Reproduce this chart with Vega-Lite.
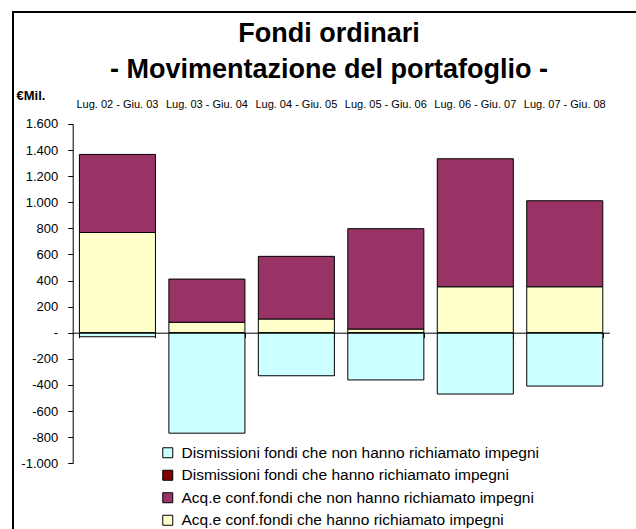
{
  "$schema": "https://vega.github.io/schema/vega-lite/v6.json",
  "width": 640,
  "height": 540,
  "autosize": {"type": "none"},
  "padding": {"left": 13, "top": 12, "right": 0, "bottom": 0},
  "background": "white",
  "config": {
    "view": {"stroke": "black", "strokeWidth": 2},
    "font": "Liberation Sans",
    "axis": {"labelFont": "Liberation Sans", "titleFont": "Liberation Sans", "domainColor": "black", "tickColor": "black", "labelColor": "black", "titleColor": "black", "grid": false},
    "legend": {"labelFont": "Liberation Sans", "labelColor": "black"}
  },
  "title": {
    "text": ["Fondi ordinari", "- Movimentazione del portafoglio -"],
    "fontSize": 27,
    "fontWeight": "bold",
    "font": "Liberation Sans",
    "color": "black",
    "anchor": "middle",
    "frame": "group",
    "lineHeight": 36,
    "offset": -72,
    "dx": -4
  },
  "data": {
    "values": [
      {"periodo": "Lug. 02 - Giu. 03", "serie": "Acq.e conf.fondi che hanno richiamato impegni", "valore": 768},
      {"periodo": "Lug. 02 - Giu. 03", "serie": "Acq.e conf.fondi che non hanno richiamato impegni", "valore": 598},
      {"periodo": "Lug. 02 - Giu. 03", "serie": "Dismissioni fondi che non hanno richiamato impegni", "valore": -31},
      {"periodo": "Lug. 03 - Giu. 04", "serie": "Acq.e conf.fondi che hanno richiamato impegni", "valore": 80},
      {"periodo": "Lug. 03 - Giu. 04", "serie": "Acq.e conf.fondi che non hanno richiamato impegni", "valore": 331},
      {"periodo": "Lug. 03 - Giu. 04", "serie": "Dismissioni fondi che non hanno richiamato impegni", "valore": -770},
      {"periodo": "Lug. 04 - Giu. 05", "serie": "Acq.e conf.fondi che hanno richiamato impegni", "valore": 105},
      {"periodo": "Lug. 04 - Giu. 05", "serie": "Acq.e conf.fondi che non hanno richiamato impegni", "valore": 480},
      {"periodo": "Lug. 04 - Giu. 05", "serie": "Dismissioni fondi che non hanno richiamato impegni", "valore": -330},
      {"periodo": "Lug. 05 - Giu. 06", "serie": "Acq.e conf.fondi che hanno richiamato impegni", "valore": 28},
      {"periodo": "Lug. 05 - Giu. 06", "serie": "Acq.e conf.fondi che non hanno richiamato impegni", "valore": 769},
      {"periodo": "Lug. 05 - Giu. 06", "serie": "Dismissioni fondi che non hanno richiamato impegni", "valore": -362},
      {"periodo": "Lug. 06 - Giu. 07", "serie": "Acq.e conf.fondi che hanno richiamato impegni", "valore": 352},
      {"periodo": "Lug. 06 - Giu. 07", "serie": "Acq.e conf.fondi che non hanno richiamato impegni", "valore": 981},
      {"periodo": "Lug. 06 - Giu. 07", "serie": "Dismissioni fondi che non hanno richiamato impegni", "valore": -470},
      {"periodo": "Lug. 07 - Giu. 08", "serie": "Acq.e conf.fondi che hanno richiamato impegni", "valore": 352},
      {"periodo": "Lug. 07 - Giu. 08", "serie": "Acq.e conf.fondi che non hanno richiamato impegni", "valore": 659},
      {"periodo": "Lug. 07 - Giu. 08", "serie": "Dismissioni fondi che non hanno richiamato impegni", "valore": -409}
    ]
  },
  "encoding": {
    "x": {
      "field": "periodo",
      "type": "nominal",
      "sort": null,
      "scale": {"range": [59.7, 596.5], "paddingInner": 0.15, "paddingOuter": 0.075}
    }
  },
  "layer": [
    {
      "mark": {"type": "bar", "stroke": "black", "strokeWidth": 1},
      "encoding": {
        "x": {
          "field": "periodo",
          "type": "nominal",
          "sort": null,
          "axis": {"orient": "top", "offset": -99, "title": null, "labelAngle": 0, "labelFontSize": 11, "labelPadding": 2, "ticks": false, "domain": false}
        },
        "y": {
          "field": "valore",
          "type": "quantitative",
          "stack": "zero",
          "scale": {"domain": [-1000, 1600], "range": [451.2, 111.9], "nice": false, "zero": false},
          "axis": {
            "orient": "left",
            "offset": -59.7,
            "values": [-1000, -800, -600, -400, -200, 0, 200, 400, 600, 800, 1000, 1200, 1400, 1600],
            "labelExpr": "datum.value == 0 ? '-' : (datum.value < 0 ? '-' : '') + replace(format(abs(datum.value), ','), ',', '.')",
            "labelFontSize": 13,
            "tickSize": 5,
            "labelPadding": 10,
            "title": "€Mil.",
            "titleAngle": 0,
            "titleAlign": "left",
            "titleBaseline": "middle",
            "titleFontSize": 13,
            "titleFontWeight": "bold",
            "titleX": -56.7,
            "titleY": 83
          }
        },
        "color": {
          "field": "serie",
          "type": "nominal",
          "scale": {
            "domain": [
              "Dismissioni fondi che non hanno richiamato impegni",
              "Dismissioni fondi che hanno richiamato impegni",
              "Acq.e conf.fondi che non hanno richiamato impegni",
              "Acq.e conf.fondi che hanno richiamato impegni"
            ],
            "range": ["#CCFFFF", "#800000", "#993366", "#FFFFCC"]
          },
          "legend": {
            "orient": "none",
            "legendX": 147,
            "legendY": 433,
            "title": null,
            "symbolType": "square",
            "symbolSize": 100,
            "symbolStrokeColor": "black",
            "symbolStrokeWidth": 1,
            "symbolOpacity": 1,
            "labelFontSize": 15.5,
            "labelOffset": 6,
            "rowPadding": 5.5,
            "labelLimit": 500
          }
        },
        "order": {"field": "serie", "sort": "ascending"}
      }
    },
    {
      "mark": {"type": "rule", "opacity": 0},
      "encoding": {
        "x": {
          "field": "periodo",
          "type": "nominal",
          "sort": null,
          "axis": {"orient": "bottom", "offset": -219.3, "labels": false, "title": null, "tickBand": "extent", "tickSize": 5, "zindex": 1}
        }
      }
    }
  ],
  "resolve": {"axis": {"x": "independent"}}
}
